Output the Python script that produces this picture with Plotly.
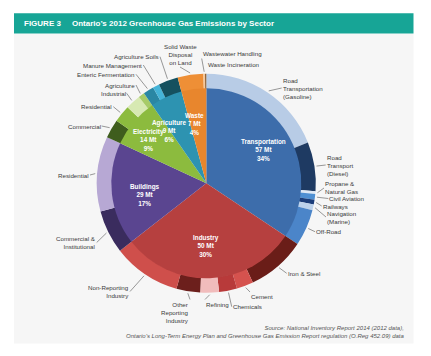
import math
import plotly.graph_objects as go

# ---------------- data ----------------
sectors = ["Transportation", "Industry", "Buildings", "Electricity", "Agriculture", "Waste"]
sector_mt = [57, 50, 29, 14, 9, 7]
sector_pct = [34, 30, 17, 9, 6, 4]

sub_parent = ["Transportation"] * 7 + ["Industry"] * 6 + ["Buildings"] * 2 + \
             ["Electricity"] * 4 + ["Agriculture"] * 3 + ["Waste"] * 3
sub_labels = [
    "Road<br>Transportation<br>(Gasoline)", "Road<br>Transport<br>(Diesel)", "Propane &<br>Natural Gas",
    "Civil Aviation", "Railways", "Navigation<br>(Marine)", "Off-Road",
    "Iron & Steel", "Cement", "Chemicals", "Refining", "Other<br>Reporting<br>Industry",
    "Non-Reporting<br>Industry",
    "Commercial &<br>Institutional", "Residential",
    "Commercial", "Residential", "Industrial", "Agriculture",
    "Enteric Fermentation", "Manure Management", "Agriculture Soils",
    "Solid Waste<br>Disposal<br>on Land", "Wastewater Handling", "Waste Incineration",
]
sub_mt = [
    31.4, 12.0, 0.7, 1.4, 1.15, 1.4, 8.95,
    14.4, 4.1, 4.4, 4.6, 5.8, 16.7,
    10.6, 18.4,
    4.6, 4.2, 3.7, 1.5,
    2.6, 1.6, 4.8,
    6.3, 0.4, 0.3,
]

# ---------------- style ----------------
W, H = 431, 356
CX, CY = 206.3, 183.3
R_OUT, R_IN = 109.5, 95.0
FONT = "Liberation Sans, Arial, sans-serif"

sector_colors = ["#3d6dab", "#b6403f", "#5a4590", "#8cbb3e", "#2d93b1", "#e8862d"]
sub_colors = [
    "#b8cce6", "#1e3a62", "#dde8f5", "#4e8fd2", "#1c3e7a", "#bcd2ec", "#4b85c9",
    "#6a1d18", "#d5524e", "#b83a3a", "#f1bcbc", "#6c1f1c", "#cf4f4b",
    "#3a2c5e", "#b7a8d4",
    "#3f5d1d", "#8cbb3e", "#d7e9b2", "#a7cb68",
    "#2a87a4", "#45b4d8", "#15515f",
    "#ee8f36", "#f5c89c", "#8b5a2b",
]
inner_label_r = [66, 77, 79, 72, 76, 74]
inner_label_dtheta = [-2.1, 2.2, -1.9, -3.4, -3.6, -1.2]
# text anchor point (px), xanchor, yanchor, align, arrow
sub_label_pos = [
    (281.7, 88, "left", "middle", "left", True),
    (325.7, 165, "left", "middle", "left", True),
    (324, 188, "left", "middle", "left", True),
    (328.3, 198.5, "left", "middle", "left", True),
    (321.7, 206, "left", "middle", "left", True),
    (326, 217, "left", "middle", "left", True),
    (315, 231.7, "left", "middle", "left", True),
    (286.7, 273.3, "left", "middle", "left", True),
    (250, 292, "left", "top", "left", True),
    (231.7, 306.7, "left", "middle", "left", True),
    (205, 299.5, "left", "top", "left", True),
    (190, 299.5, "right", "top", "right", True),
    (130, 291.5, "right", "middle", "right", True),
    (96.7, 242.5, "right", "middle", "right", True),
    (90, 175, "right", "middle", "right", True),
    (101.7, 126, "right", "middle", "right", True),
    (113.3, 106.7, "right", "middle", "right", True),
    (126.7, 93.3, "right", "middle", "right", True),
    (136, 85, "right", "middle", "right", True),
    (136, 74.3, "right", "middle", "right", True),
    (143.3, 65, "right", "middle", "right", True),
    (160, 56.7, "right", "middle", "right", True),
    (180, 67, "center", "bottom", "center", True),
    (201.7, 58.5, "left", "bottom", "left", True),
    (206.7, 64.3, "left", "middle", "left", False),
]


def paper(x, y):
    return x / W, 1 - y / H


def domain(r):
    x0, y1 = paper(CX - r, CY - r)
    x1, y0 = paper(CX + r, CY + r)
    return dict(x=[x0, x1], y=[y0, y1])


fig = go.Figure()
fig.add_trace(go.Pie(
    labels=[l.replace("<br>", " ") + f" ({p})" for l, p in zip(sub_labels, sub_parent)],
    values=sub_mt, sort=False, direction="clockwise", rotation=0,
    marker=dict(colors=sub_colors, line=dict(width=0)),
    textinfo="none", hole=0.86, domain=domain(R_OUT), hoverinfo="label+value",
))
fig.add_trace(go.Pie(
    labels=sectors, values=sector_mt, sort=False, direction="clockwise", rotation=0,
    marker=dict(colors=sector_colors, line=dict(width=0)),
    textinfo="none", domain=domain(R_IN), hoverinfo="label+value",
))

annotations = []
total = sum(sector_mt)
cum = 0
for name, mt, pct, r, dt in zip(sectors, sector_mt, sector_pct, inner_label_r, inner_label_dtheta):
    th = math.radians((cum + mt / 2) / total * 360 + dt)
    cum += mt
    px, py = CX + r * math.sin(th), CY - r * math.cos(th)
    x, y = paper(px, py)
    annotations.append(dict(
        x=x, y=y, xref="paper", yref="paper", showarrow=False,
        text=f"<b>{name}<br>{mt} Mt<br>{pct}%</b>",
        font=dict(family=FONT, size=6.4, color="white"), align="center",
    ))

sub_total = sum(sub_mt)
cum = 0
for lab, mt, pos in zip(sub_labels, sub_mt, sub_label_pos):
    th = math.radians((cum + mt / 2) / sub_total * 360)
    cum += mt
    tx, ty, xa, ya, al, arrow = pos
    f = dict(family=FONT, size=6.2, color="#3a3a3a")
    if arrow:
        rr = R_OUT + 2
        hx, hy = CX + rr * math.sin(th), CY - rr * math.cos(th)
        x, y = paper(hx, hy)
        annotations.append(dict(
            x=x, y=y, xref="paper", yref="paper", showarrow=True,
            ax=tx - hx, ay=ty - hy, axref="pixel", ayref="pixel",
            arrowhead=0, arrowwidth=0.6, arrowcolor="#555555", standoff=0,
            text=lab, font=f, xanchor=xa, yanchor=ya, align=al, borderpad=0,
        ))
    else:
        x, y = paper(tx, ty)
        annotations.append(dict(
            x=x, y=y, xref="paper", yref="paper", showarrow=False,
            text=lab, font=f, xanchor=xa, yanchor=ya, align=al, borderpad=0,
        ))

# header
for txt, x0 in [("FIGURE 3", 21.7), ("Ontario’s 2012 Greenhouse Gas Emissions by Sector", 70)]:
    x, y = paper(x0, 23.5)
    annotations.append(dict(x=x, y=y, xref="paper", yref="paper", showarrow=False,
                            text=f"<b>{txt}</b>", xanchor="left", yanchor="middle",
                            font=dict(family=FONT, size=8, color="white")))
x, y = paper(406, 331.5)
annotations.append(dict(
    x=x, y=y, xref="paper", yref="paper", showarrow=False, xanchor="right", yanchor="middle",
    align="right",
    text="<i>Source: National Inventory Report 2014 (2012 data),<br>"
         "Ontario’s Long-Term Energy Plan and Greenhouse Gas Emission Report regulation (O.Reg 452.09) data</i>",
    font=dict(family=FONT, size=6, color="#555555"),
))

hx0, hy1 = paper(14, 13.3)
hx1, hy0 = paper(413.5, 33.5)
px0, py1 = paper(14, 33.5)
px1, py0 = paper(413.5, 343.5)
shapes = [
    dict(type="rect", xref="paper", yref="paper", x0=px0, x1=px1, y0=py0, y1=py1,
         fillcolor="#f6f6f6", line=dict(width=0), layer="below"),
    dict(type="rect", xref="paper", yref="paper", x0=hx0, x1=hx1, y0=hy0, y1=hy1,
         fillcolor="#17a596", line=dict(width=0), layer="below"),
]

fig.update_layout(
    width=W, height=H, margin=dict(l=0, r=0, t=0, b=0),
    paper_bgcolor="white", plot_bgcolor="white", showlegend=False,
    annotations=annotations, shapes=shapes,
)
fig.write_html(
    "out.html",
    config={"displayModeBar": False},
    post_script="document.body.style.margin='0';document.body.style.overflow='hidden';",
)
